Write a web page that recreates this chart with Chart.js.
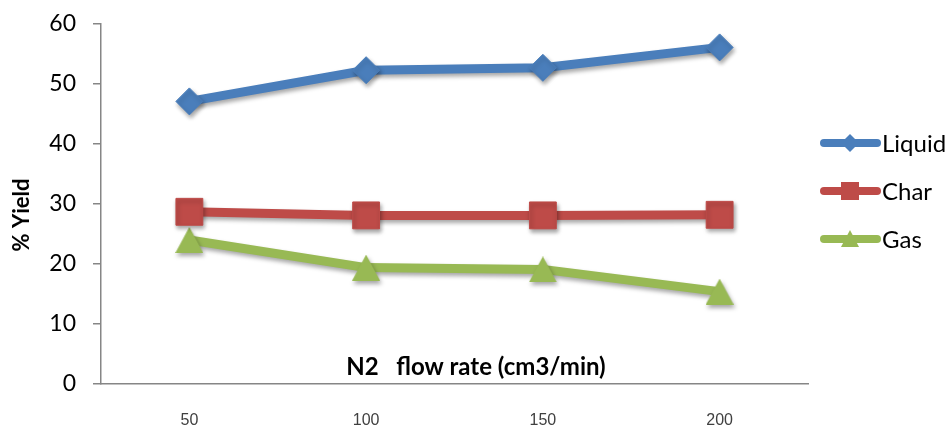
<!DOCTYPE html>
<html>
<head>
<meta charset="utf-8">
<title>% Yield vs N2 flow rate</title>
<script src="https://cdn.jsdelivr.net/npm/chart.js@4.4.1/dist/chart.umd.min.js"></script>
<style>
  body { margin: 0; background: #fff; }
  #wrap { width: 947px; height: 426px; }
</style>
</head>
<body>
<div id="wrap"><canvas id="yield-chart" width="947" height="426"></canvas></div>
<script>
// values
const flowRates = ['50', '100', '150', '200'];
const liquid = [47.1, 52.3, 52.7, 56.1];
const charYield = [28.7, 28.1, 28.1, 28.2];
const gas = [24.0, 19.4, 19.1, 15.4];
const seriesNames = ['Liquid', 'Char', 'Gas'];
const yMin = 0, yMax = 60, yStep = 10;

const blue = '#4a7ebb', red = '#be4b48', green = '#98b954';

// excel style triangle marker, centred on its box
function triangleMarker(w, h, color) {
  let c = document.createElement('canvas');
  c.width = w; c.height = h;
  let g = c.getContext('2d');
  g.fillStyle = color;
  g.beginPath();
  g.moveTo(w / 2, 0);
  g.lineTo(w, h);
  g.lineTo(0, h);
  g.closePath();
  g.fill();
  return c;
}

function drawMarker(ctx, kind, x, y, color) {
  ctx.fillStyle = color;
  ctx.beginPath();
  if (kind == 'diamond') {
    ctx.moveTo(x - 9, y); ctx.lineTo(x, y - 9); ctx.lineTo(x + 9, y); ctx.lineTo(x, y + 9);
  } else if (kind == 'square') {
    ctx.rect(x - 9, y - 9, 18, 18);
  } else {
    ctx.moveTo(x, y - 9); ctx.lineTo(x + 9, y + 8); ctx.lineTo(x - 9, y + 8);
  }
  ctx.closePath();
  ctx.fill();
}

// soft shadow under lines and markers
const shadowPlugin = {
  id: 'shadow',
  beforeDatasetsDraw(chart) {
    let ctx = chart.ctx;
    ctx.save();
    ctx.shadowColor = 'rgba(0,0,0,0.35)';
    ctx.shadowBlur = 4;
    ctx.shadowOffsetX = 1.5;
    ctx.shadowOffsetY = 3;
  },
  afterDatasetsDraw(chart) {
    chart.ctx.restore();
  }
};

// axis titles + legend
const textPlugin = {
  id: 'texts',
  afterDraw(chart) {
    let ctx = chart.ctx;
    let area = chart.chartArea;
    ctx.save();
    ctx.fillStyle = '#000';
    ctx.textBaseline = 'middle';
    ctx.textAlign = 'center';

    ctx.font = 'bold 24px Lato';
    ctx.fillText('N2   flow rate (cm3/min)', 476, area.bottom - 17);

    ctx.save();
    ctx.translate(22, 215);
    ctx.rotate(-Math.PI / 2);
    ctx.font = 'bold 22px Lato';
    ctx.fillText('% Yield', 0, 0);
    ctx.restore();

    let kinds = ['diamond', 'square', 'triangle'];
    ctx.textAlign = 'left';
    ctx.font = '24px Lato';
    chart.data.datasets.forEach(function (ds, i) {
      let y = 143 + i * 48;
      ctx.strokeStyle = ds.borderColor;
      ctx.lineWidth = 8;
      ctx.lineCap = 'round';
      ctx.beginPath();
      ctx.moveTo(824, y);
      ctx.lineTo(877, y);
      ctx.stroke();
      drawMarker(ctx, kinds[i], 850, y, ds.borderColor);
      ctx.fillStyle = '#000';
      ctx.fillText(ds.label, 882, y + 1);
    });
    ctx.restore();
  }
};

new Chart(document.getElementById('yield-chart'), {
  type: 'line',
  data: {
    labels: flowRates,
    datasets: [
      { label: seriesNames[0], data: liquid, borderColor: blue, backgroundColor: blue,
        pointStyle: 'rectRot', pointRadius: 13.5 },
      { label: seriesNames[1], data: charYield, borderColor: red, backgroundColor: red,
        pointStyle: 'rect', pointRadius: 19 },
      { label: seriesNames[2], data: gas, borderColor: green, backgroundColor: green,
        pointStyle: triangleMarker(28, 26, green), pointRadius: 13 }
    ]
  },
  options: {
    responsive: false,
    devicePixelRatio: 1,
    animation: false,
    elements: {
      line: { borderWidth: 9, tension: 0, borderJoinStyle: 'round' },
      point: { borderWidth: 1, hoverRadius: 13 }
    },
    layout: { autoPadding: false, padding: { top: 24, right: 139, bottom: 0, left: 0 } },
    plugins: {
      legend: { display: false },
      tooltip: { enabled: false }
    },
    scales: {
      x: {
        offset: true,
        grid: { display: false, drawTicks: false },
        border: { color: '#868686', width: 1.5 },
        ticks: { font: { family: 'Liberation Sans', size: 16 }, color: '#404040', padding: 27, maxRotation: 0 },
        afterFit: function (scale) { scale.height = 42; }
      },
      y: {
        min: yMin,
        max: yMax,
        grid: { drawOnChartArea: false, drawTicks: true, tickLength: 8, color: '#868686', lineWidth: 1.5 },
        border: { color: '#868686', width: 1.5 },
        ticks: { stepSize: yStep, font: { family: 'Lato', size: 23 }, color: '#000', padding: 17 },
        afterFit: function (scale) {
          scale.width = 101;
          // label padding would push the plot top down
          scale.paddingTop = 0;
          scale.paddingBottom = 0;
        }
      }
    }
  },
  plugins: [shadowPlugin, textPlugin]
});
</script>
</body>
</html>
